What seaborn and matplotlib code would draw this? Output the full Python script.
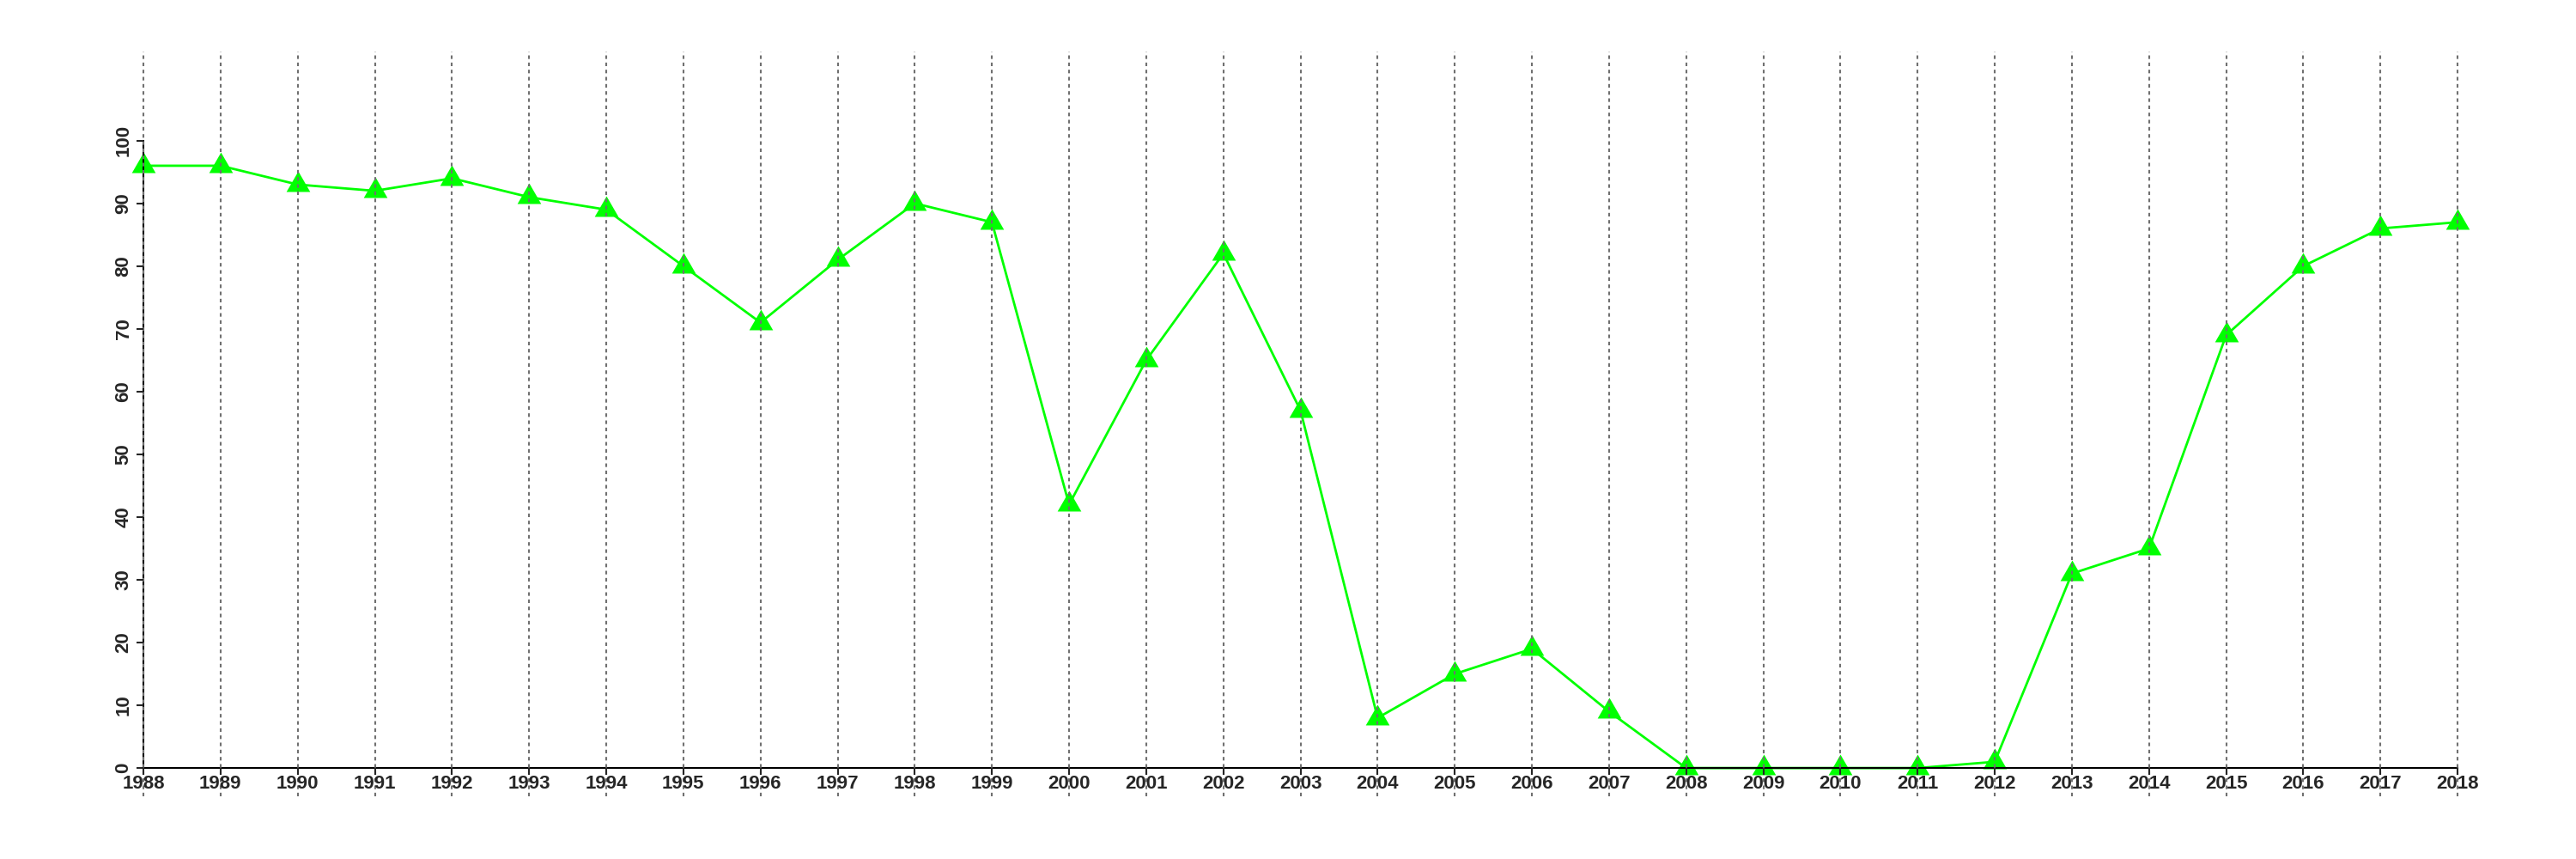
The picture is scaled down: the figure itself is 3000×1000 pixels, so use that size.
import numpy as np
import pandas as pd
import seaborn as sns
import matplotlib.pyplot as plt

# Values
years = list(range(1988, 2019))
values = [96, 96, 93, 92, 94, 91, 89, 80, 71, 81, 90, 87, 42, 65, 82, 57,
          8, 15, 19, 9, 0, 0, 0, 0, 1, 31, 35, 69, 80, 86, 87]
y_ticks = list(range(0, 101, 10))

df = pd.DataFrame({"year": years, "value": values})

sns.set_style("white")
plt.rcParams["font.family"] = ["Liberation Sans", "DejaVu Sans"]

fig = plt.figure(figsize=(30, 10), dpi=100)
ax = fig.add_axes([0.0407, 0.073, 0.9283, 0.867])

# equilateral triangle, centred on its centroid (like R's pch=17)
tri = [(0, 1), (-0.866, -0.5), (0.866, -0.5)]

sns.lineplot(
    data=df,
    x="year",
    y="value",
    ax=ax,
    color="#00ff00",
    linewidth=2,
    marker=tri,
    markersize=23,
    markeredgewidth=0,
    markerfacecolor="#00ff00",
    zorder=2,
)

ax.set_xlim(1987.5, 2018.5)
ax.set_ylim(-4.5, 114.2)
ax.set_xticks(years)
ax.set_yticks(y_ticks)
ax.set_xlabel("")
ax.set_ylabel("")

# vertical dotted grid on every year
ax.grid(axis="x", color="#707070", linestyle=(0, (2, 2)), linewidth=1.5)
ax.grid(axis="y", visible=False)
ax.set_axisbelow(False)

for side in ["top", "right"]:
    ax.spines[side].set_visible(False)
ax.spines["left"].set_position(("data", 1988))
ax.spines["bottom"].set_position(("data", 0))
ax.spines["left"].set_bounds(0, 100)
ax.spines["bottom"].set_bounds(1988, 2018)
for side in ["left", "bottom"]:
    ax.spines[side].set_color("black")
    ax.spines[side].set_linewidth(1.5)

ax.tick_params(axis="x", direction="out", length=6, width=1.5, pad=0,
               labelsize=16, bottom=True)
ax.tick_params(axis="y", direction="out", length=6, width=1.5, pad=3,
               labelsize=16, left=True)
for lab in ax.get_xticklabels() + ax.get_yticklabels():
    lab.set_fontweight("bold")
plt.setp(ax.get_yticklabels(), rotation=90, va="center")

fig.savefig("out.png", dpi=100, facecolor="white")
plt.close(fig)
